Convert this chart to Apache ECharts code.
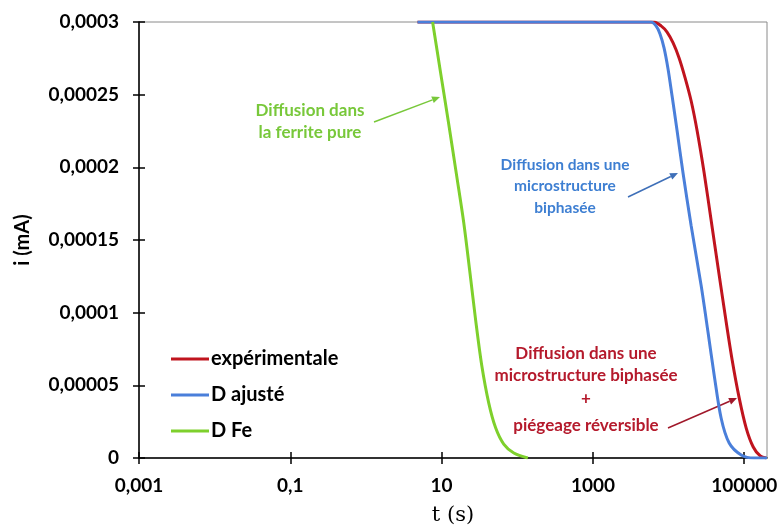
<!DOCTYPE html>
<html>
<head>
<meta charset="utf-8">
<script src="https://cdn.jsdelivr.net/npm/echarts@6/dist/echarts.min.js"></script>
<style>html,body{margin:0;padding:0;background:#fff}#c{width:777px;height:531px}</style>
</head>
<body>
<div id="c"></div>
<script>
// ---- data ----
var seriesNames = ['expérimentale', 'D ajusté', 'D Fe'];

var expT = [4.8, 6430, 7960, 9550, 11480, 13770, 16540, 19860, 23840, 29510, 36560, 45290, 55980, 69340, 85900, 106200, 131500, 162900, 195500];
var expI = [0.0003, 0.0003, 0.0002973, 0.0002931, 0.0002856, 0.0002753, 0.0002616, 0.0002458, 0.0002252, 0.0001963, 0.0001634, 0.0001304, 0.0000982, 0.0000673, 0.0000412, 0.0000206, 0.0000076, 0.0000014, 0];

var ajusteT = [4.8, 5866, 6826, 7710, 8710, 9840, 11120, 12960, 15560, 19860, 26920, 33380, 40090, 49470, 63240, 91250, 135600, 200000];
var ajusteI = [0.0003, 0.0003, 0.0002973, 0.0002918, 0.0002822, 0.0002677, 0.0002492, 0.0002252, 0.0001957, 0.00016, 0.0001188, 0.0000858, 0.000057, 0.0000275, 0.0000103, 0.0000021, 0, 0];

var feT = [7.6, 9.7, 12.4, 15.8, 19.6, 23.5, 28.2, 33.9, 42.0, 51.9, 66.2, 90, 138];
var feI = [0.0003, 0.000265, 0.00023, 0.0001943, 0.000162, 0.000129, 0.0000947, 0.0000638, 0.0000378, 0.0000206, 0.0000096, 0.0000034, 0];

var xTickValues = [0.001, 0.1, 10, 1000, 100000];
var xTickLabels = ['0,001', '0,1', '10', '1000', '100000'];
var yTickLabels = ['0', '0,00005', '0,0001', '0,00015', '0,0002', '0,00025', '0,0003'];

function pairs(t, v) { return t.map(function (x, i) { return [x, v[i]]; }); }

var RED = '#C0141E', BLUE = '#4A7FDA', GREEN = '#7ED02C';
var FONT = 'Lato, "Open Sans", sans-serif';

function xLabel(v) {
  var k = Math.round(Math.log10(v));
  for (var i = 0; i < xTickValues.length; i++) {
    if (Math.round(Math.log10(xTickValues[i])) === k) return xTickLabels[i];
  }
  return '';
}
function yLabel(v) {
  var k = Math.round(v / 0.00005);
  return yTickLabels[k] !== undefined ? yTickLabels[k] : '';
}

function arrow(x1, y1, x2, y2, color) {
  var a = Math.atan2(y2 - y1, x2 - x1), L = 8, W = 3.5;
  var bx = x2 - L * Math.cos(a), by = y2 - L * Math.sin(a);
  var px = -Math.sin(a) * W, py = Math.cos(a) * W;
  return {
    type: 'group', silent: true, children: [
      { type: 'line', shape: { x1: x1, y1: y1, x2: bx, y2: by }, style: { stroke: color, lineWidth: 1.5 } },
      { type: 'polygon', shape: { points: [[x2, y2], [bx + px, by + py], [bx - px, by - py]] }, style: { fill: color } }
    ]
  };
}
function note(text, x, y, color, lh, size) {
  return { type: 'text', silent: true, style: { text: text, x: x, y: y, align: 'center', verticalAlign: 'top', fill: color, font: 'bold ' + size + 'px ' + FONT, lineHeight: lh } };
}

var chart = echarts.init(document.getElementById('c'), null, { renderer: 'canvas' });

var xBase = {
  type: 'log', logBase: 10, min: 0.001, max: 200000,
  splitLine: { show: false }, minorTick: { show: false }
};
var yBase = { type: 'value', min: 0, max: 0.0003, interval: 0.00005, splitLine: { show: false } };

var lineCommon = { type: 'line', showSymbol: false, symbol: 'none', smooth: 0.3, clip: true };

chart.setOption({
  animation: false,
  backgroundColor: '#fff',
  grid: { left: 139, right: 10, top: 22, bottom: 73, show: true, borderColor: '#8a8a8a', borderWidth: 1, backgroundColor: 'transparent', outerBoundsMode: 'none', containLabel: false },
  legend: {
    data: seriesNames, orient: 'vertical', left: 166, top: 343, itemGap: 14,
    icon: 'rect', itemWidth: 38, itemHeight: 3,
    textStyle: { color: '#000', fontFamily: FONT, fontWeight: 'bold', fontSize: 20, lineHeight: 22, padding: [0, 0, 0, -3] }
  },
  xAxis: [
    Object.assign({}, xBase, {
      position: 'bottom',
      name: 't (s)', nameLocation: 'middle', nameGap: 47,
      nameTextStyle: { fontFamily: '"DejaVu Serif", "Liberation Serif", serif', fontSize: 21, color: '#000' },
      axisLine: { show: true, onZero: false, lineStyle: { color: '#000', width: 1.5 } },
      axisTick: { show: true, length: 6, inside: false, customValues: xTickValues, lineStyle: { color: '#000', width: 1.5 } },
      axisLabel: { show: true, customValues: xTickValues, formatter: xLabel, margin: 18, color: '#000', fontFamily: FONT, fontWeight: 'bold', fontSize: 19 }
    }),
    Object.assign({}, xBase, {
      position: 'bottom',
      axisLine: { show: false },
      axisTick: { show: true, length: 6, inside: true, customValues: xTickValues, lineStyle: { color: '#000', width: 1.5 } },
      axisLabel: { show: false }
    })
  ],
  yAxis: [
    Object.assign({}, yBase, {
      position: 'left',
      name: 'i (mA)', nameLocation: 'middle', nameGap: 106, nameRotate: 90,
      nameTextStyle: { fontFamily: FONT, fontWeight: 'bold', fontSize: 20, color: '#000' },
      axisLine: { show: true, onZero: false, lineStyle: { color: '#000', width: 1.5 } },
      axisTick: { show: true, length: 6, inside: false, lineStyle: { color: '#000', width: 1.5 } },
      axisLabel: { formatter: yLabel, margin: 20, color: '#000', fontFamily: FONT, fontWeight: 'bold', fontSize: 19 }
    }),
    Object.assign({}, yBase, {
      position: 'left',
      axisLine: { show: false },
      axisTick: { show: true, length: 6, inside: true, lineStyle: { color: '#000', width: 1.5 } },
      axisLabel: { show: false }
    })
  ],
  series: [
    Object.assign({}, lineCommon, { name: seriesNames[0], data: pairs(expT, expI), lineStyle: { color: RED, width: 3 }, itemStyle: { color: RED }, z: 2 }),
    Object.assign({}, lineCommon, { name: seriesNames[1], data: pairs(ajusteT, ajusteI), lineStyle: { color: BLUE, width: 3 }, itemStyle: { color: BLUE }, z: 3 }),
    Object.assign({}, lineCommon, { name: seriesNames[2], data: pairs(feT, feI), lineStyle: { color: GREEN, width: 3 }, itemStyle: { color: GREEN }, z: 4 })
  ],
  graphic: [
    note('Diffusion dans\nla ferrite pure', 310, 100, '#78C83A', 22, 17),
    arrow(374, 122, 440, 97, '#78C83A'),
    note('Diffusion dans une\nmicrostructure\nbiphasée', 565, 154, '#3E7FD2', 21.5, 15.5),
    arrow(628, 197, 678, 173, '#3E6FB8'),
    note('Diffusion dans une\nmicrostructure biphasée', 586, 343, '#B51A2C', 22, 17),
    note('+', 586, 388, '#B51A2C', 22, 17),
    note('piégeage réversible', 586, 415, '#B51A2C', 22, 17),
    arrow(668, 428, 737, 398, '#A0182A')
  ]
});
</script>
</body>
</html>
